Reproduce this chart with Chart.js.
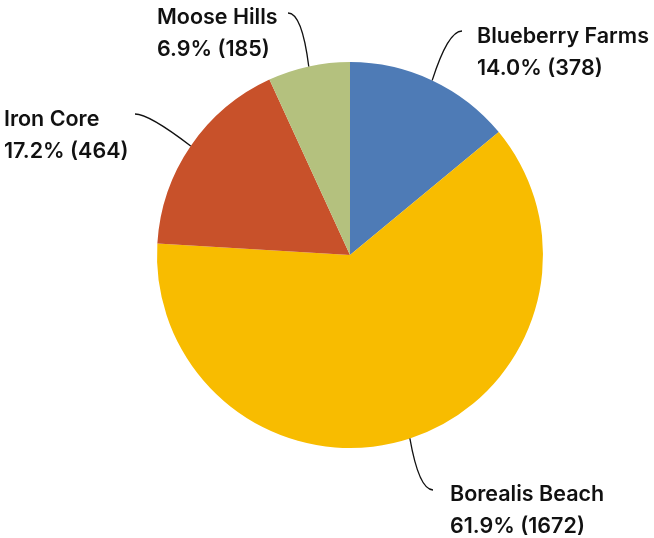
<!DOCTYPE html>
<html>
<head>
<meta charset="utf-8">
<script src="https://cdn.jsdelivr.net/npm/chart.js@4.4.1/dist/chart.umd.min.js"></script>
<style>
  html, body { margin: 0; padding: 0; background: #fff; }
  #wrap { width: 654px; height: 538px; }
</style>
</head>
<body>
<div id="wrap"><canvas id="pie" width="654" height="538"></canvas></div>
<script>
const categories = ['Blueberry Farms', 'Borealis Beach', 'Iron Core', 'Moose Hills'];
const values = [378, 1672, 464, 185];
const colors = ['#4E7BB6', '#F8BC00', '#C8512A', '#B4C17E'];

// leader end point and text baseline for each label
const labelLayout = [
  { end: [462, 31], side: 'right', textX: 477, base: 43 },
  { end: [433, 490], side: 'right', textX: 450, base: 501 },
  { end: [135, 114], side: 'left', textX: 4, base: 126 },
  { end: [288, 13], side: 'left', textX: 157, base: 24 }
];

const total = values.reduce((a, b) => a + b, 0);

const leaderLabels = {
  id: 'leaderLabels',
  afterDatasetsDraw(chart) {
    const ctx = chart.ctx;
    const arcs = chart.getDatasetMeta(0).data;
    ctx.save();
    arcs.forEach((arc, i) => {
      const mid = (arc.startAngle + arc.endAngle) / 2;
      const r = arc.outerRadius;
      const sx = arc.x + r * Math.cos(mid);
      const sy = arc.y + r * Math.sin(mid);
      const lay = labelLayout[i];
      const ex = lay.end[0], ey = lay.end[1];
      const cx = lay.side === 'right' ? ex - 14 : ex + 14;
      ctx.beginPath();
      ctx.moveTo(sx, sy);
      ctx.quadraticCurveTo(cx, ey, ex, ey);
      ctx.strokeStyle = '#111';
      ctx.lineWidth = 1.3;
      ctx.stroke();

      const pct = (values[i] / total * 100).toFixed(1) + '% (' + values[i] + ')';
      ctx.fillStyle = '#111';
      ctx.font = '600 21.5px Inter';
      ctx.textAlign = 'left';
      ctx.textBaseline = 'alphabetic';
      ctx.fillText(categories[i], lay.textX, lay.base);
      ctx.fillText(pct, lay.textX, lay.base + 32);
    });
    ctx.restore();
  }
};

new Chart(document.getElementById('pie'), {
  type: 'pie',
  data: {
    labels: categories,
    datasets: [{
      data: values,
      backgroundColor: colors,
      borderWidth: 0
    }]
  },
  options: {
    responsive: false,
    animation: false,
    layout: { padding: { left: 157, right: 111, top: 62, bottom: 90 } },
    plugins: {
      legend: { display: false },
      tooltip: { enabled: false }
    }
  },
  plugins: [leaderLabels]
});
</script>
</body>
</html>
